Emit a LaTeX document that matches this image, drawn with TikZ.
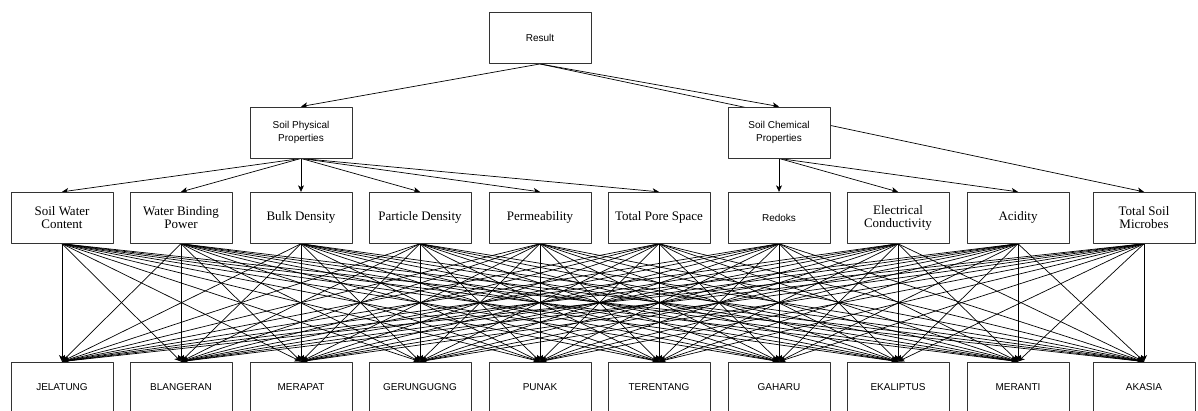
\documentclass[tikz,border=0pt]{standalone}
\usepackage{fontspec}
\setmainfont{Liberation Serif}
\setsansfont{Liberation Sans}
\usetikzlibrary{arrows.meta,backgrounds}
\newcommand{\sanssize}{\sffamily\fontsize{10}{13}\selectfont}
\begin{document}
\begin{tikzpicture}[x=1pt, y=-1pt, line join=round,
	>={Stealth[length=6.5pt,width=6pt,inset=1.8pt]},
	box/.style={draw=black!80, fill=white, line width=0.9pt, minimum width=102pt, minimum height=51pt, inner sep=1pt, align=center},
	sans/.style={font=\sanssize},
	serif/.style={font=\rmfamily\fontsize{13}{13.5}\selectfont},
	link/.style={->, line width=0.7pt}]
	\useasboundingbox (0,0) rectangle (1198,411);
	\clip (0,0) rectangle (1198,411);
	% goal and the two groups
	\node[box,sans] (result) at (540,38) {Result};
	\node[box,sans] (phys) at (301,132.5) {Soil Physical\\Properties};
	\node[box,sans] (chem) at (779,132.5) {Soil Chemical\\Properties};
	% criteria
	\foreach \n/\x/\t in {c1/62/{Soil Water\\Content}, c2/181/{Water Binding\\Power}, c3/301/{Bulk Density},
		c4/420/{Particle Density}, c5/540/{Permeability}, c6/659/{Total Pore Space}, c7/779/{\sanssize Redoks},
		c8/898/{Electrical\\Conductivity}, c9/1018/{Acidity}, c10/1144/{Total Soil\\Microbes}}{
		\node[box,serif] (\n) at (\x,217.8) {\t};}
	% alternatives
	\foreach \n/\x/\t in {a1/62/JELATUNG, a2/181/BLANGERAN, a3/301/MERAPAT, a4/420/GERUNGUGNG, a5/540/PUNAK,
		a6/659/TERENTANG, a7/779/GAHARU, a8/898/EKALIPTUS, a9/1018/MERANTI, a10/1144/AKASIA}{
		\node[box,sans] (\n) at (\x,387.5) {\t};}
	\begin{scope}[on background layer]
		\draw[link] (result.south) -- (phys.north);
		\draw[link] (result.south) -- (chem.north);
		\draw[link] (result.south) -- (c10.north);
		\foreach \i in {1,...,6} \draw[link] (phys.south) -- (c\i.north);
		\foreach \i in {7,8,9} \draw[link] (chem.south) -- (c\i.north);
		\foreach \i in {1,...,10}{
			\foreach \j in {1,...,10}{
				\draw[link] (c\i.south) -- (a\j.north);}}
	\end{scope}
\end{tikzpicture}
\end{document}
